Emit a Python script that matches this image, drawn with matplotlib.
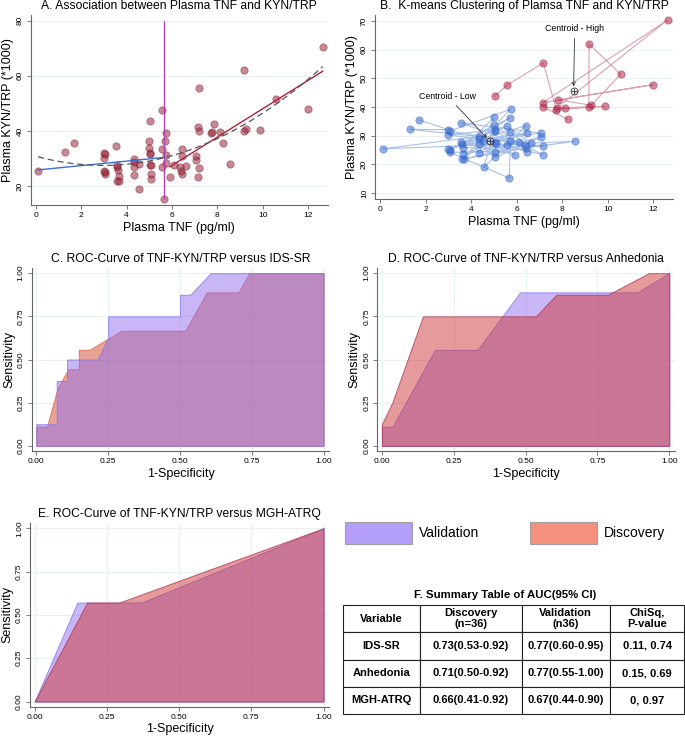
import matplotlib
matplotlib.use('Agg')
import matplotlib.pyplot as plt
import numpy as np
from matplotlib.patches import Rectangle

plt.rcParams['font.family'] = ['Liberation Sans', 'DejaVu Sans']

# plasma TNF / KYN-TRP, low and high k-means clusters (data order matters for panel B lines)
tnf_low = [1.7, 3.0, 1.3, 4.34, 0.1, 8.55, 5.06, 3.05, 5.67, 5.72, 3.55, 7.05, 3.6, 6.42, 4.56,
           5.03, 3.0, 7.17, 3.64, 5.01, 4.34, 6.1, 3.05, 5.73, 3.6, 6.39, 5.0, 3.07, 5.7, 4.34,
           7.14, 5.04, 3.67, 6.61, 5.57, 3.0, 4.53, 5.91, 3.56, 6.44, 5.03, 3.65, 7.05, 5.06, 4.34,
           6.36, 5.72, 5.07, 6.44, 5.57]
kyn_low = [35.5, 32.1, 32.2, 29.7, 25.4, 28.0, 24.4, 24.2, 15.2, 28.2, 34.5, 30.9, 27.0, 33.5, 19.0,
           32.1, 30.2, 26.4, 25.8, 36.4, 23.9, 27.7, 31.6, 39.2, 21.8, 25.6, 33.7, 25.0, 36.3, 28.8,
           23.4, 31.5, 21.8, 27.4, 33.4, 25.4, 28.0, 23.4, 27.7, 30.9, 27.6, 23.6, 29.4, 22.4, 27.0,
           26.8, 31.4, 27.5, 24.4, 26.8]
tnf_high = [5.03, 5.57, 7.17, 7.74, 9.88, 7.76, 12.64, 7.14, 12.0, 7.83, 9.27, 10.57, 9.18, 9.17,
            8.11, 7.17, 8.25]
kyn_high = [43.7, 47.6, 55.4, 39.1, 40.2, 39.7, 70.4, 41.5, 47.8, 42.5, 40.6, 51.4, 62.0, 40.0,
            39.5, 40.0, 35.7]
tnf_cut = 5.67      # vertical reference line
tnf_split = 5.8     # piecewise fit break

# ROC curves (1-specificity, sensitivity)
ids_disc_x = [0, 0, 0.037, 0.074, 0.111, 0.148, 0.148, 0.185, 0.296, 0.519, 0.593, 0.704, 0.741, 1.0]
ids_disc_y = [0, 0.111, 0.111, 0.333, 0.444, 0.444, 0.556, 0.556, 0.667, 0.667, 0.889, 0.889, 1.0, 1.0]
ids_val_x = [0, 0, 0.071, 0.071, 0.107, 0.107, 0.214, 0.25, 0.25, 0.5, 0.5, 0.536, 0.607, 1.0]
ids_val_y = [0, 0.125, 0.125, 0.375, 0.375, 0.5, 0.5, 0.625, 0.75, 0.75, 0.875, 0.875, 1.0, 1.0]

anh_disc_x = [0, 0, 0.036, 0.143, 0.536, 0.607, 0.786, 0.929, 1.0]
anh_disc_y = [0, 0.125, 0.25, 0.75, 0.75, 0.875, 0.875, 1.0, 1.0]
anh_val_x = [0, 0, 0.037, 0.185, 0.333, 0.481, 0.889, 1.0]
anh_val_y = [0, 0.111, 0.111, 0.556, 0.556, 0.889, 0.889, 1.0]

mgh_disc_x = [0, 0.182, 0.293, 1.0]
mgh_disc_y = [0, 0.571, 0.571, 1.0]
mgh_val_x = [0, 0.148, 0.37, 1.0]
mgh_val_y = [0, 0.571, 0.571, 1.0]

# summary table
table_cols = ['Variable', 'Discovery\n(n=36)', 'Validation\n(n36)', 'ChiSq,\nP-value']
table_rows = [['IDS-SR', '0.73(0.53-0.92)', '0.77(0.60-0.95)', '0.11, 0.74'],
              ['Anhedonia', '0.71(0.50-0.92)', '0.77(0.55-1.00)', '0.15, 0.69'],
              ['MGH-ATRQ', '0.66(0.41-0.92)', '0.67(0.44-0.90)', '0, 0.97']]

W, H = 685, 738
fig = plt.figure(figsize=(W / 100, H / 100), dpi=100)


def px_axes(l, r, t, b):
    return fig.add_axes([l / W, 1 - b / H, (r - l) / W, (b - t) / H])


def stata_style(ax, xgrid=False):
    for s in ['top', 'right']:
        ax.spines[s].set_visible(False)
    for s in ['left', 'bottom']:
        ax.spines[s].set_color('#666666')
        ax.spines[s].set_linewidth(0.8)
    ax.tick_params(labelsize=6, length=3, width=0.6, color='#666666', pad=2)
    for lab in ax.get_yticklabels():
        lab.set_rotation(90)
        lab.set_va('center')
    ax.grid(axis='y', color='#e8f0f2', lw=0.7)
    if xgrid:
        ax.grid(axis='x', color='#e8f0f2', lw=0.7)
    ax.set_axisbelow(True)


tnf_all = np.array(tnf_low + tnf_high)
kyn_all = np.array(kyn_low + kyn_high)

# ---- A
ax = px_axes(30.7, 328, 15, 205)
ax.scatter(tnf_all, kyn_all, s=28, color='#98263a', alpha=0.55, edgecolor='#7a1628', lw=0.5, zorder=3)
ax.vlines(tnf_cut, kyn_all.min(), 80, color='#b540b8', lw=1.0, zorder=4)
lo = tnf_all <= tnf_split
b_lo = np.polyfit(tnf_all[lo], kyn_all[lo], 1)
xs = np.array([tnf_all[lo].min(), tnf_cut])
ax.plot(xs, np.polyval(b_lo, xs), color='#3b6fd6', lw=1.0, zorder=5)
b_hi = np.polyfit(tnf_all[~lo], kyn_all[~lo], 1)
xs = np.array([tnf_all[~lo].min(), tnf_all[~lo].max()])
ax.plot(xs, np.polyval(b_hi, xs), color='#b0203a', lw=1.0, zorder=5)
b_q = np.polyfit(tnf_all, kyn_all, 2)
xs = np.linspace(tnf_all.min(), tnf_all.max(), 100)
ax.plot(xs, np.polyval(b_q, xs), color='#555555', lw=0.9, ls=(0, (5, 3)), zorder=5)
ax.set_xlim(-0.22, 12.87)
ax.set_ylim(13.1, 82)
ax.set_xticks(range(0, 13, 2))
ax.set_yticks([20, 40, 60, 80])
ax.set_title('A. Association between Plasma TNF and KYN/TRP', fontsize=8.7, pad=4)
ax.set_xlabel('Plasma TNF (pg/ml)', fontsize=9, labelpad=2)
ax.set_ylabel('Plasma KYN/TRP (*1000)', fontsize=9, labelpad=2)
stata_style(ax)

# ---- B
ax = px_axes(375, 673, 15, 199)
ax.plot(tnf_low, kyn_low, color='#a9c0e8', lw=0.8, zorder=2)
ax.plot(tnf_high, kyn_high, color='#dca2b0', lw=0.8, zorder=2)
ax.scatter(tnf_low, kyn_low, s=28, color='#3a6cd0', alpha=0.55, edgecolor='#2f5fc4', lw=0.5, zorder=3)
ax.scatter(tnf_high, kyn_high, s=28, color='#b02248', alpha=0.55, edgecolor='#9a1c3c', lw=0.5, zorder=3)
c_low = (np.mean(tnf_low), np.mean(kyn_low))
c_high = (np.mean(tnf_high), np.mean(kyn_high))
for c in (c_low, c_high):
    ax.plot(*c, marker='o', ms=5, mfc='none', mec='#333333', mew=0.6, zorder=6)
    ax.plot(*c, marker='+', ms=5, color='#333333', mew=0.6, zorder=6)
ax.annotate('Centroid - Low', xy=c_low, xytext=(2.95, 43.8), fontsize=6.3, ha='center', va='center',
            arrowprops=dict(arrowstyle='->', color='#333333', lw=0.6, shrinkB=3), zorder=7)
ax.annotate('Centroid - High', xy=c_high, xytext=(8.55, 67.4), fontsize=6.3, ha='center', va='center',
            arrowprops=dict(arrowstyle='->', color='#333333', lw=0.6, shrinkB=3), zorder=7)
ax.set_xlim(-0.23, 12.87)
ax.set_ylim(7.9, 72.1)
ax.set_xticks(range(0, 13, 2))
ax.set_yticks(range(10, 71, 10))
ax.set_title('B.  K-means Clustering of Plamsa TNF and KYN/TRP', fontsize=8.7, pad=4)
ax.set_xlabel('Plasma TNF (pg/ml)', fontsize=9, labelpad=2)
ax.set_ylabel('Plasma KYN/TRP (*1000)', fontsize=9, labelpad=2)
stata_style(ax)


def roc_panel(box, title, disc, val, disc_col, disc_edge, val_on_top):
    ax = px_axes(*box)
    val_col = '#946fee'
    layers = [(disc, disc_col, disc_edge), (val, val_col, '#8478ec')]
    if not val_on_top:
        layers = layers[::-1]
    for (x, y), col, edge in layers:
        ax.fill_between(x, y, 0, facecolor=matplotlib.colors.to_rgba(col, 0.5),
                        edgecolor=matplotlib.colors.to_rgba(edge, 0.8), lw=0.7)
    ax.set_xlim(-0.016, 1.02)
    ax.set_ylim(-0.03, 1.03)
    ticks = [0, 0.25, 0.5, 0.75, 1.0]
    ax.set_xticks(ticks, ['%.2f' % t for t in ticks])
    ax.set_yticks(ticks, ['%.2f' % t for t in ticks])
    ax.set_title(title, fontsize=8.7, pad=4)
    ax.set_xlabel('1-Specificity', fontsize=9, labelpad=2)
    ax.set_ylabel('Sensitivity', fontsize=9, labelpad=2)
    stata_style(ax, xgrid=True)
    return ax


roc_panel((31.7, 329.3, 268, 451), 'C. ROC-Curve of TNF-KYN/TRP versus IDS-SR',
          (ids_disc_x, ids_disc_y), (ids_val_x, ids_val_y), '#d14a2c', '#e0634c', True)
roc_panel((377.3, 675, 268, 451), 'D. ROC-Curve of TNF-KYN/TRP versus Anhedonia',
          (anh_disc_x, anh_disc_y), (anh_val_x, anh_val_y), '#cd3838', '#b03a58', False)
roc_panel((30, 329.3, 523, 706.7), 'E. ROC-Curve of TNF-KYN/TRP versus MGH-ATRQ',
          (mgh_disc_x, mgh_disc_y), (mgh_val_x, mgh_val_y), '#cd3838', '#b03a58', False)

# ---- legend
for x0, col, lab in [(345, '#b39ef9', 'Validation'), (530, '#f5907c', 'Discovery')]:
    fig.add_artist(Rectangle((x0 / W, 1 - 544 / H), 66.7 / W, 22.3 / H, transform=fig.transFigure,
                             facecolor=col, edgecolor='#a0a0a0', lw=0.8))
    fig.text((x0 + 74) / W, 1 - 533 / H, lab, fontsize=10, va='center', ha='left')

# ---- F table
fig.text(505 / W, 1 - 595 / H, 'F. Summary Table of AUC(95% CI)', fontsize=8.2, weight='bold',
         ha='center', va='center')
ax = px_axes(342.7, 684.3, 605, 714)
ax.axis('off')
tbl = ax.table(cellText=table_rows, colLabels=table_cols, cellLoc='center', bbox=[0, 0, 1, 1],
               colWidths=[77.3, 101.7, 88.3, 74.3])
tbl.auto_set_font_size(False)
tbl.set_fontsize(8)
for cell in tbl.get_celld().values():
    cell.set_text_props(weight='bold')
    cell.set_linewidth(0.8)
    cell.set_edgecolor('#222222')

fig.savefig('out.png', dpi=100)
